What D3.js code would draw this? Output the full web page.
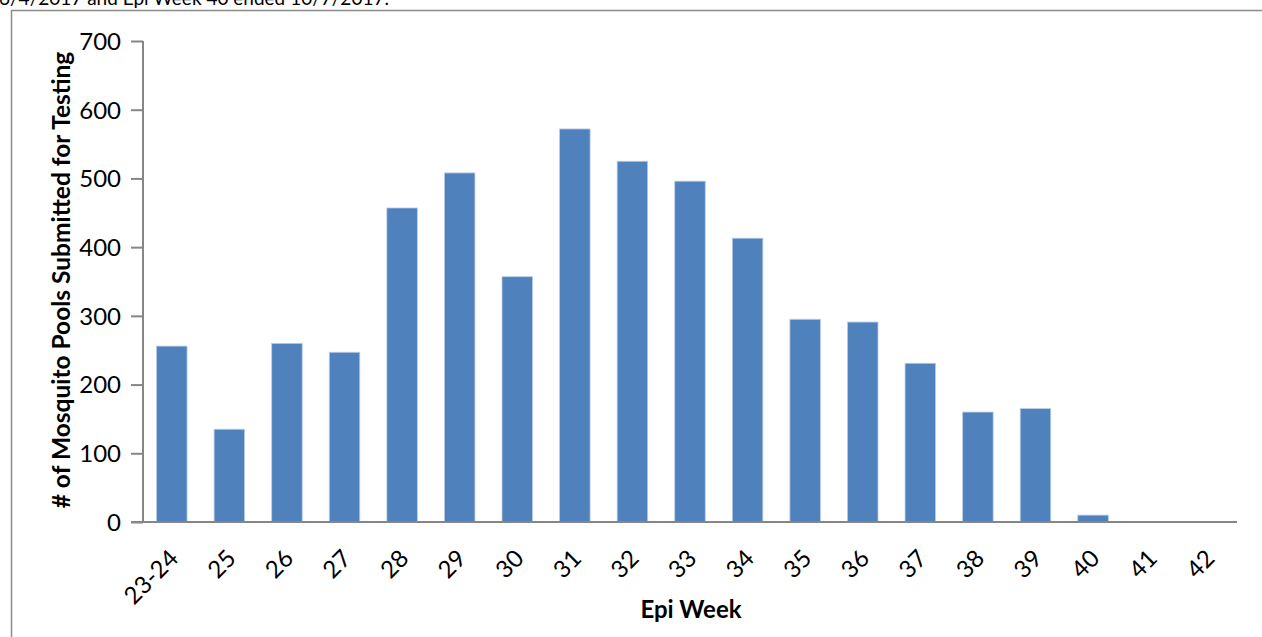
<!DOCTYPE html>
<html>
<head>
<meta charset="utf-8">
<script src="https://cdn.jsdelivr.net/npm/d3@7"></script>
<style>
  body { margin: 0; background: #fff; overflow: hidden; }
  text { font-family: Lato, "Open Sans", sans-serif; fill: #000; }
</style>
</head>
<body>
<svg width="1262" height="637"></svg>
<script>
// weeks and pool counts
const weeks = ["23-24", "25", "26", "27", "28", "29", "30", "31", "32", "33",
  "34", "35", "36", "37", "38", "39", "40", "41", "42"];
const pools = [256, 135, 260, 247, 457, 508, 357, 572, 525, 496,
  413, 295, 291, 231, 160, 165, 10, 0, 0];
const yTicks = [0, 100, 200, 300, 400, 500, 600, 700];

const svg = d3.select("svg");
const axisGray = "#868686";

// clipped caption from the page above the chart
svg.append("text")
  .attr("x", -1)
  .attr("y", 5)
  .attr("font-size", "19px")
  .text("6/4/2017 and Epi Week 40 ended 10/7/2017.");

// chart frame (runs off the right and bottom)
svg.append("path")
  .attr("d", "M11.5,640 L11.5,10.5 L1265,10.5")
  .attr("fill", "none")
  .attr("stroke", "#8c8c8c")
  .attr("stroke-width", 1.5);

const x = d3.scaleBand()
  .domain(weeks)
  .range([143, 1237])
  .paddingInner(0.47)
  .paddingOuter(0.235);

const y = d3.scaleLinear()
  .domain([0, 700])
  .range([522, 41]);

// bars
svg.selectAll(".bar")
  .data(weeks)
  .enter().append("rect")
  .attr("class", "bar")
  .attr("x", d => x(d))
  .attr("width", x.bandwidth())
  .attr("y", (d, i) => y(pools[i]))
  .attr("height", (d, i) => y(0) - y(pools[i]))
  .attr("fill", "#4f81bd")
  .attr("stroke", "#b9cde5")
  .attr("stroke-width", (d, i) => pools[i] > 0 ? 0.8 : 0);

// y axis
const yAxis = svg.append("g")
  .attr("transform", "translate(143,0)")
  .call(d3.axisLeft(y).tickValues(yTicks).tickSize(12).tickPadding(10).tickFormat(d3.format("d")));
yAxis.select(".domain").attr("stroke", axisGray).attr("stroke-width", 2)
  .attr("d", "M0,41V522");
yAxis.selectAll(".tick line").attr("stroke", axisGray).attr("stroke-width", 2);
yAxis.selectAll(".tick text")
  .attr("font-size", "24px")
  .attr("font-family", "Lato, sans-serif")
  .attr("fill", "#000")
  .attr("dy", "0.35em");

// x axis line
svg.append("line")
  .attr("x1", 131).attr("x2", 1237)
  .attr("y1", y(0)).attr("y2", y(0))
  .attr("stroke", axisGray)
  .attr("stroke-width", 2);

// rotated week labels
svg.selectAll(".xlab")
  .data(weeks)
  .enter().append("text")
  .attr("class", "xlab")
  .attr("font-size", "24px")
  .attr("text-anchor", "end")
  .attr("transform", d => `translate(${x(d) + x.bandwidth() / 2 + 8},560) rotate(-45)`)
  .text(d => d);

// axis titles
svg.append("text")
  .attr("x", 691)
  .attr("y", 618)
  .attr("text-anchor", "middle")
  .attr("font-size", "24px")
  .attr("font-weight", "bold")
  .text("Epi Week");

svg.append("text")
  .attr("transform", "translate(70,280) rotate(-90)")
  .attr("text-anchor", "middle")
  .attr("font-size", "24.5px")
  .attr("font-weight", "bold")
  .text("# of Mosquito Pools Submitted for Testing");
</script>
</body>
</html>
